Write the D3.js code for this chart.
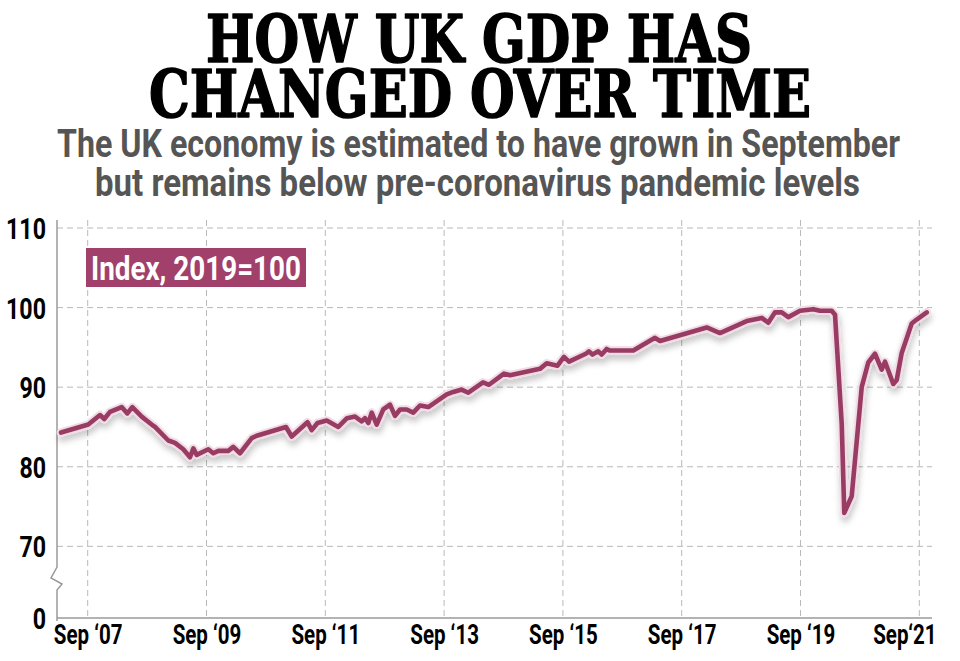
<!DOCTYPE html>
<html><head><meta charset="utf-8">
<script src="https://cdn.jsdelivr.net/npm/d3@7"></script>
<style>body{margin:0;background:#fff;} svg{display:block}</style>
</head><body><svg id="c" width="960" height="661"></svg>
<script>
const titleLines = ["HOW UK GDP HAS", "CHANGED OVER TIME"];
const subtitleLines = ["The UK economy is estimated to have grown in September", "but remains below pre-coronavirus pandemic levels"];
const unitLabel = "Index, 2019=100";

// sample positions (decimal years) and index values
const years = [2007.218, 2007.677, 2007.874, 2007.946, 2008.042, 2008.239, 2008.334, 2008.418, 2008.576, 2008.744, 2008.80, 2009.024, 2009.137, 2009.276, 2009.389, 2009.445, 2009.502, 2009.697, 2009.781, 2009.866, 2010.034, 2010.118, 2010.231,
2010.428, 2010.512, 2011.005, 2011.101, 2011.367, 2011.438, 2011.536, 2011.691, 2011.886, 2012.032, 2012.167, 2012.280, 2012.335, 2012.391, 2012.448, 2012.532, 2012.643, 2012.756, 2012.840, 2012.925, 2013.037, 2013.148, 2013.261, 2013.401,
2013.711, 2013.822, 2013.963, 2014.074, 2014.322, 2014.423, 2014.675, 2014.776, 2015.281, 2015.394, 2015.576, 2015.685, 2015.770, 2016.053, 2016.106, 2016.165, 2016.263, 2016.320, 2016.404, 2016.460,
2016.852, 2017.218, 2017.302, 2018.088, 2018.312, 2018.761, 2019.014, 2019.125, 2019.238, 2019.351, 2019.462, 2019.659,
2019.882, 2019.995, 2020.192, 2020.248, 2020.361, 2020.404, 2020.529, 2020.697, 2020.808, 2020.921, 2021.034, 2021.090, 2021.229, 2021.287, 2021.371, 2021.539, 2021.623, 2021.792];
const gdpIndex = [84.3, 85.3, 86.5, 86.0, 86.9, 87.5, 86.7, 87.5, 86.3, 85.3, 85.0, 83.3, 83.0, 82.2, 81.2, 82.3, 81.5, 82.2, 81.7, 82.0, 82.0, 82.5, 81.7,
83.6, 83.9, 85.0, 83.8, 85.6, 84.6, 85.5, 85.8, 85.0, 86.1, 86.3, 85.7, 86.1, 85.5, 86.8, 85.3, 87.2, 87.8, 86.4, 87.2, 87.2, 86.8, 87.7, 87.5,
89.1, 89.4, 89.7, 89.3, 90.6, 90.3, 91.7, 91.5, 92.3, 93.0, 92.7, 93.8, 93.2, 94.2, 94.5, 94.1, 94.5, 94.1, 94.8, 94.6,
94.6, 96.2, 95.8, 97.5, 96.8, 98.3, 98.7, 98.1, 99.4, 99.4, 98.8, 99.6,
99.8, 99.6, 99.6, 99.1, 85.4, 74.2, 76.3, 90.0, 93.1, 94.2, 92.2, 93.2, 90.4, 90.9, 94.3, 98.0, 98.5, 99.4];

const xTickValues = [2007.667, 2009.667, 2011.667, 2013.667, 2015.667, 2017.667, 2019.667, 2021.667];
const xTickLabels = ["Sep \u201807", "Sep \u201809", "Sep \u201811", "Sep \u201813", "Sep \u201815", "Sep \u201817", "Sep \u201819", "Sep\u201821"];
const yTickValues = [0, 70, 80, 90, 100, 110];
const yGridValues = [70, 80, 90, 100, 110];

(function() {
const svg = d3.select("#c");
const LINE = "#983c64", BOX = "#a0406b";
const pLeft = 57, pRight = 932, pTop = 220, pBottom = 618;

const x = d3.scaleLinear().domain([2007.667, 2021.667]).range([87.7, 919.3]);
const y = d3.scaleLinear().domain([0, 62, 110]).range([618, 610, 228]);

function condense(sel, f) {
  sel.each(function() {
    const w = this.getComputedTextLength();
    d3.select(this).attr("textLength", w * f).attr("lengthAdjust", "spacingAndGlyphs");
  });
}
function fitWidth(sel, w) { sel.attr("textLength", w).attr("lengthAdjust", "spacingAndGlyphs"); }

// Title
const tPos = [{x: 206, y: 62, w: 546}, {x: 149, y: 117, w: 662}];
svg.selectAll("text.title").data(titleLines).join("text").attr("class", "title")
  .attr("x", (d, i) => tPos[i].x).attr("y", (d, i) => tPos[i].y)
  .attr("font-family", "'DejaVu Serif', serif").attr("font-weight", "bold").attr("font-size", 66)
  .attr("fill", "#000").attr("stroke", "#000").attr("stroke-width", 1.6).attr("stroke-linejoin", "round")
  .text(d => d)
  .each(function(d, i) { fitWidth(d3.select(this), tPos[i].w); });

const sPos = [{x: 57, y: 157, w: 843}, {x: 95, y: 196, w: 765}];
svg.selectAll("text.sub").data(subtitleLines).join("text").attr("class", "sub")
  .attr("x", (d, i) => sPos[i].x).attr("y", (d, i) => sPos[i].y)
  .attr("font-family", "Roboto").attr("font-weight", 700).attr("font-size", 38)
  .attr("fill", "#555").text(d => d)
  .each(function(d, i) { fitWidth(d3.select(this), sPos[i].w); });

// Grid
const grid = svg.append("g").attr("stroke", "#b9b9b9").attr("stroke-width", 1).attr("stroke-dasharray", "6,4");
grid.selectAll("line.h").data(yGridValues).join("line").attr("class", "h")
  .attr("x1", pLeft).attr("x2", pRight).attr("y1", d => y(d)).attr("y2", d => y(d));
grid.selectAll("line.v").data(xTickValues).join("line").attr("class", "v")
  .attr("x1", d => x(d)).attr("x2", d => x(d)).attr("y1", pTop).attr("y2", pBottom);

// Axes (library axes for labels)
const xAxis = svg.append("g").attr("transform", `translate(0,${pBottom})`)
  .call(d3.axisBottom(x).tickValues(xTickValues).tickFormat((d, i) => xTickLabels[i]).tickSize(0).tickPadding(0));
xAxis.select(".domain").remove();
xAxis.selectAll("text").attr("font-family", "Roboto").attr("font-weight", 700).attr("font-size", 27)
  .attr("fill", "#000").attr("dy", 26).call(condense, 0.76);
xAxis.selectAll(".tick:last-of-type text").attr("text-anchor", "end").attr("x", 936 - x(xTickValues[xTickValues.length - 1]));

const yAxis = svg.append("g").attr("transform", `translate(46,0)`)
  .call(d3.axisLeft(y).tickValues(yTickValues).tickFormat(d3.format("d")).tickSize(0).tickPadding(0));
yAxis.select(".domain").remove();
yAxis.selectAll("text").attr("font-family", "Roboto").attr("font-weight", 700).attr("font-size", 29)
  .attr("fill", "#000").attr("dy", "0.36em").call(condense, 0.8);

// axis lines with break
svg.append("path").attr("fill", "none").attr("stroke", "#9a9a9a").attr("stroke-width", 1.5)
  .attr("d", `M${pLeft},${pTop} L${pLeft},567 L51,578 L62,584 L${pLeft},590 L${pLeft},${pBottom + 3}`);
svg.append("line").attr("stroke", "#9a9a9a").attr("stroke-width", 1.5)
  .attr("x1", pLeft).attr("x2", pRight).attr("y1", pBottom).attr("y2", pBottom);

// Unit label box
const lb = svg.append("g");
lb.append("rect").attr("x", 86).attr("y", 248).attr("width", 220).attr("height", 39).attr("fill", BOX);
lb.append("text").attr("x", 91).attr("y", 280).attr("font-family", "Roboto").attr("font-weight", 700)
  .attr("font-size", 33).attr("fill", "#fff").text(unitLabel).call(fitWidth, 210);

// Line
const defs = svg.append("defs");
const f = defs.append("filter").attr("id", "sh").attr("x", "-10%").attr("y", "-10%").attr("width", "120%").attr("height", "130%");
f.append("feDropShadow").attr("dx", 1).attr("dy", 5).attr("stdDeviation", 3).attr("flood-color", "#000").attr("flood-opacity", 0.22);

const pts = years.map((d, i) => [d, gdpIndex[i]]);
const line = d3.line().x(d => x(d[0])).y(d => y(d[1]));
svg.append("path").datum(pts).attr("d", line).attr("fill", "none").attr("stroke", "#f1dbe4")
  .attr("stroke-width", 8.5).attr("stroke-linejoin", "round").attr("stroke-linecap", "round").attr("filter", "url(#sh)");
svg.append("path").datum(pts).attr("d", line).attr("fill", "none").attr("stroke", LINE)
  .attr("stroke-width", 4.6).attr("stroke-linejoin", "round").attr("stroke-linecap", "round");
})();
</script></body></html>
